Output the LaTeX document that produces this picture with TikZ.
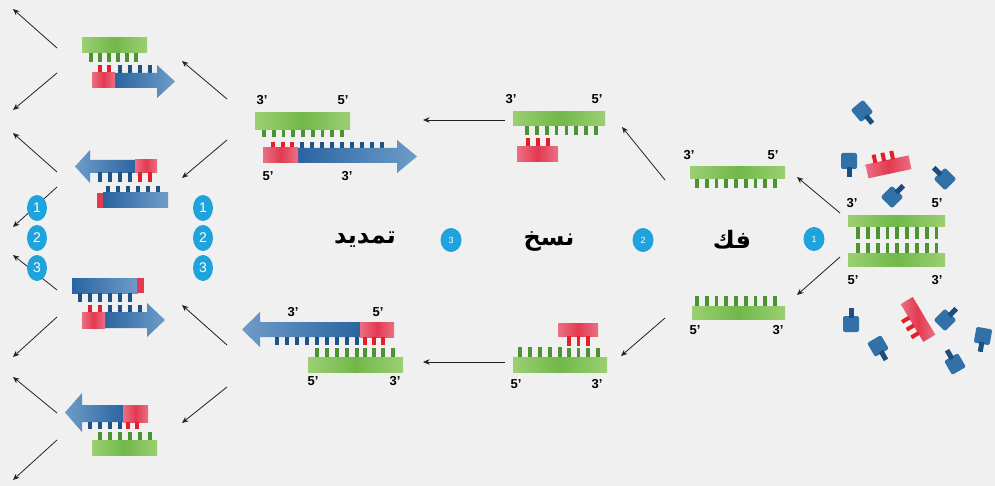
\documentclass[tikz,border=0pt]{standalone}
\usepackage{fontspec}
\setmainfont{Liberation Sans}
\newfontfamily\arabicfont[Script=Arabic]{DejaVu Sans}
\TeXXeTstate=1
\usetikzlibrary{arrows.meta,shapes.geometric}

\definecolor{bg}{HTML}{EFF0EF}
\definecolor{gA}{HTML}{9CCF72}
\definecolor{gB}{HTML}{71B84A}
\definecolor{gT}{HTML}{4C9431}
\definecolor{rA}{HTML}{EC6F83}
\definecolor{rB}{HTML}{E23A50}
\definecolor{rT}{HTML}{E41E2A}
\definecolor{bA}{HTML}{2A64A0}
\definecolor{bC}{HTML}{6E9CC9}
\definecolor{bT}{HTML}{1D5487}
\definecolor{nucb}{HTML}{3270A8}
\definecolor{nucd}{HTML}{1C4F80}
\definecolor{dotblue}{HTML}{1FA3DC}
\definecolor{arrowc}{HTML}{222222}

% strand pieces: bars, teeth and blue arrow-shaped strands
\newcommand{\gbar}[4]{\shade[left color=gA,right color=gA,middle color=gB] (#1,#3) rectangle (#2,#4);}
\newcommand{\rbar}[4]{\shade[left color=rA,right color=rA,middle color=rB] (#1,#3) rectangle (#2,#4);}
\newcommand{\bbar}[4]{\shade[left color=bA,right color=bC] (#1,#3) rectangle (#2,#4);}
\newcommand{\tth}[4]{\foreach \tx in {#1}{\fill[#4] ({\tx-1.9},#2) rectangle ({\tx+1.9},#3);}}
% #1 start x, #2 shaft end x, #3 tip x, #4/#5 bar top/bottom, #6/#7 head top/bottom
\newcommand{\dnaR}[7]{\shade[left color=bA,right color=bC] (#1,#4) -- (#2,#4) -- (#2,#6) -- (#3,{(#6+#7)/2}) -- (#2,#7) -- (#2,#5) -- (#1,#5) -- cycle;}
\newcommand{\dnaL}[7]{\shade[left color=bC,right color=bA] (#1,#4) -- (#2,#4) -- (#2,#6) -- (#3,{(#6+#7)/2}) -- (#2,#7) -- (#2,#5) -- (#1,#5) -- cycle;}

\begin{document}
\begin{tikzpicture}[x=1pt,y=-1pt,
  lbl/.style={font=\fontsize{13}{13}\selectfont\bfseries, inner sep=0pt},
  flow/.style={draw=arrowc, line width=0.8pt, -{Stealth[length=6.5pt,width=5.5pt]}},
  stepdot/.style={ellipse, fill=dotblue, minimum width=21pt, minimum height=24pt, inner sep=0pt, text=white, font=\fontsize{9}{9}\selectfont},
  sidedot/.style={ellipse, fill=dotblue, minimum width=20pt, minimum height=26pt, inner sep=0pt, text=white, font=\fontsize{14}{14}\selectfont},
  ar/.style={font=\arabicfont\bfseries\fontsize{24}{24}\selectfont, inner sep=0pt},
  nuc/.pic={\fill[nucb, rounded corners=2pt] (-8,-8) rectangle (8,8);
            \fill[nucd] (-2.5,6) rectangle (2.5,16);},
  primer/.pic={\shade[left color=rA,right color=rA,middle color=rB] (-22,0) rectangle (22,14);
               \foreach \tx in {-12,-3,6}{\fill[rT] ({\tx-2},-8) rectangle ({\tx+2},0.5);}}
]
\fill[bg] (0,0) rectangle (995,486);
\useasboundingbox (0,0) rectangle (995,486);

% ---------- starting double strand with free nucleotides and primers
\gbar{848}{945}{216}{227}
\tth{858,867.8,...,937}{227}{239}{gT}
\tth{858,867.8,...,937}{243}{254}{gT}
\gbar{848}{945}{254}{266}
\node[lbl] (l01) at (852,203) {3'};
\node[lbl] (l02) at (937,203) {5'};
\node[lbl] (l03) at (853,280) {5'};
\node[lbl] (l04) at (937,280) {3'};

\pic[rotate=40] at (862,111) {nuc};
\pic at (849,161) {nuc};
\pic[rotate=135] at (892,197) {nuc};
\pic[rotate=-135] at (945,179) {nuc};
\pic[rotate=180] at (851,324) {nuc};
\pic[rotate=30] at (878,346) {nuc};
\pic[rotate=135] at (945,320) {nuc};
\pic[rotate=-150] at (955,364) {nuc};
\pic[rotate=-10] at (983,336) {nuc};
\pic[rotate=12] at (887,160) {primer};
\pic[rotate=121] at (912,323) {primer};

% ---------- step 1: separated strands
\gbar{690}{785}{167}{179}
\tth{697,706.75,...,776}{179}{188}{gT}
\node[lbl] (l11) at (689,155) {3'};
\node[lbl] (l12) at (773,155) {5'};
\tth{697,706.75,...,776}{296}{306}{gT}
\gbar{692}{785}{306}{319}
\node[lbl] (l13) at (695,330) {5'};
\node[lbl] (l14) at (778,330) {3'};

% ---------- step 2: primers bound
\gbar{513}{605}{112}{126}
\tth{527,536.85,...,597}{126}{135}{gT}
\tth{528,538,548}{138}{147.5}{rT}
\rbar{517}{558}{147}{162}
\node[lbl] (l21) at (511,99) {3'};
\node[lbl] (l22) at (597,99) {5'};

\rbar{558}{598}{323}{336}
\tth{569,578.5,588}{335.5}{346}{rT}
\tth{520,530,540,550,560}{347}{357}{gT}
\tth{569,578.5,588,598}{348}{357}{gT}
\gbar{513}{607}{357}{372}
\node[lbl] (l23) at (516,384) {5'};
\node[lbl] (l24) at (597,384) {3'};

% ---------- step 3: extension
\gbar{255}{350}{113}{130}
\tth{264,273.75,...,343}{130}{137}{gT}
\tth{273,283,292}{142}{148.5}{rT}
\tth{302,312,...,382}{142}{148.5}{bT}
\dnaR{297}{397}{417}{148}{163}{140}{173}
\rbar{263}{298}{148}{163}
\node[lbl] (l31) at (262,100) {3'};
\node[lbl] (l32) at (343,100) {5'};
\node[lbl] (l33) at (268,176) {5'};
\node[lbl] (l34) at (347,176) {3'};

\dnaL{361}{260}{242}{322}{337}{312}{347}
\rbar{360}{394}{322}{337}
\tth{277,287,...,357}{336.5}{345}{bT}
\tth{365,374,383}{336.5}{345}{rT}
\tth{317,327,...,357}{348}{357}{gT}
\tth{365,374,383,393}{348}{357}{gT}
\gbar{308}{403}{357}{372}
\node[lbl] (l35) at (293,312) {3'};
\node[lbl] (l36) at (378,312) {5'};
\node[lbl] (l37) at (313,381) {5'};
\node[lbl] (l38) at (395,381) {3'};

% ---------- step 4: four double strands
% A
\gbar{82}{147}{38}{53}
\tth{91,100,...,141}{53}{62}{gT}
\tth{100,109}{65}{73.5}{rT}
\tth{120,130,140,150}{65}{73.5}{bT}
\dnaR{114}{157}{175}{73}{88}{65}{98}
\rbar{92}{115}{73}{88}
% B
\dnaL{136}{90}{75}{160}{173}{150}{183}
\rbar{135}{157}{160}{173}
\tth{100,110,120,130}{172.5}{182}{bT}
\tth{140,150}{172.5}{182}{rT}
\tth{108,118,...,158}{186}{193.5}{bT}
\bbar{103}{168}{193}{208}
\fill[rB] (97,193) rectangle (103,208);
% C
\bbar{72}{138}{278}{293}
\fill[rB] (137,278) rectangle (144,293);
\tth{80,90,...,130}{292.5}{302}{bT}
\tth{90,100}{305}{312.5}{rT}
\tth{110,120,130,140}{305}{312.5}{bT}
\dnaR{104}{147}{165}{312}{328}{303}{337}
\rbar{82}{105}{312}{328}
% D
\dnaL{124}{82}{65}{405}{422}{393}{432}
\rbar{123}{148}{405}{422}
\tth{90,100,110,120}{421.5}{429}{bT}
\tth{128,137}{421.5}{429}{rT}
\tth{100,110,...,150}{432}{440.5}{gT}
\gbar{92}{157}{440}{455}

% ---------- connector end points
\coordinate (s0u) at (840,213);  \coordinate (s1u) at (797,177);
\coordinate (s0d) at (840,257);  \coordinate (s1d) at (797,295);
\coordinate (t0u) at (665,180);  \coordinate (t1u) at (622,127);
\coordinate (t0d) at (665,318);  \coordinate (t1d) at (621,356);
\coordinate (u0u) at (505,120);  \coordinate (u1u) at (423,120);
\coordinate (u0d) at (505,362);  \coordinate (u1d) at (423,362);
\coordinate (v0a) at (227,99);   \coordinate (v1a) at (182,61);
\coordinate (v0b) at (227,140);  \coordinate (v1b) at (182,178);
\coordinate (v0c) at (227,345);  \coordinate (v1c) at (182,305);
\coordinate (v0d) at (227,387);  \coordinate (v1d) at (182,423);
\coordinate (w0a) at (57,48);    \coordinate (w1a) at (13,9);
\coordinate (w0b) at (57,73);    \coordinate (w1b) at (13,110);
\coordinate (w0c) at (57,172);   \coordinate (w1c) at (13,133);
\coordinate (w0d) at (57,187);   \coordinate (w1d) at (13,227);
\coordinate (w0e) at (57,290);   \coordinate (w1e) at (13,255);
\coordinate (w0f) at (57,317);   \coordinate (w1f) at (13,357);
\coordinate (w0g) at (57,413);   \coordinate (w1g) at (13,377);
\coordinate (w0h) at (57,440);   \coordinate (w1h) at (13,480);

\draw[flow] (s0u) -- (s1u);
\draw[flow] (s0d) -- (s1d);
\draw[flow] (t0u) -- (t1u);
\draw[flow] (t0d) -- (t1d);
\draw[flow] (u0u) -- (u1u);
\draw[flow] (u0d) -- (u1d);
\draw[flow] (v0a) -- (v1a);
\draw[flow] (v0b) -- (v1b);
\draw[flow] (v0c) -- (v1c);
\draw[flow] (v0d) -- (v1d);
\draw[flow] (w0a) -- (w1a);
\draw[flow] (w0b) -- (w1b);
\draw[flow] (w0c) -- (w1c);
\draw[flow] (w0d) -- (w1d);
\draw[flow] (w0e) -- (w1e);
\draw[flow] (w0f) -- (w1f);
\draw[flow] (w0g) -- (w1g);
\draw[flow] (w0h) -- (w1h);

% ---------- step numbers and names
\node[stepdot] (n1) at (814,239) {1};
\node[stepdot] (n2) at (643,240) {2};
\node[stepdot] (n3) at (451,240) {3};
\node[ar] (a1) at (732,240) {\beginR فك\endR};
\node[ar] (a2) at (549,241) {\beginR نسخ\endR};
\node[ar] (a3) at (365,240) {\beginR تمديد\endR};

\foreach \k/\yy in {1/208,2/238,3/268}{
  \node[sidedot] (la\k) at (37,\yy) {\k};
  \node[sidedot] (ra\k) at (203,\yy) {\k};
}
\end{tikzpicture}
\end{document}
